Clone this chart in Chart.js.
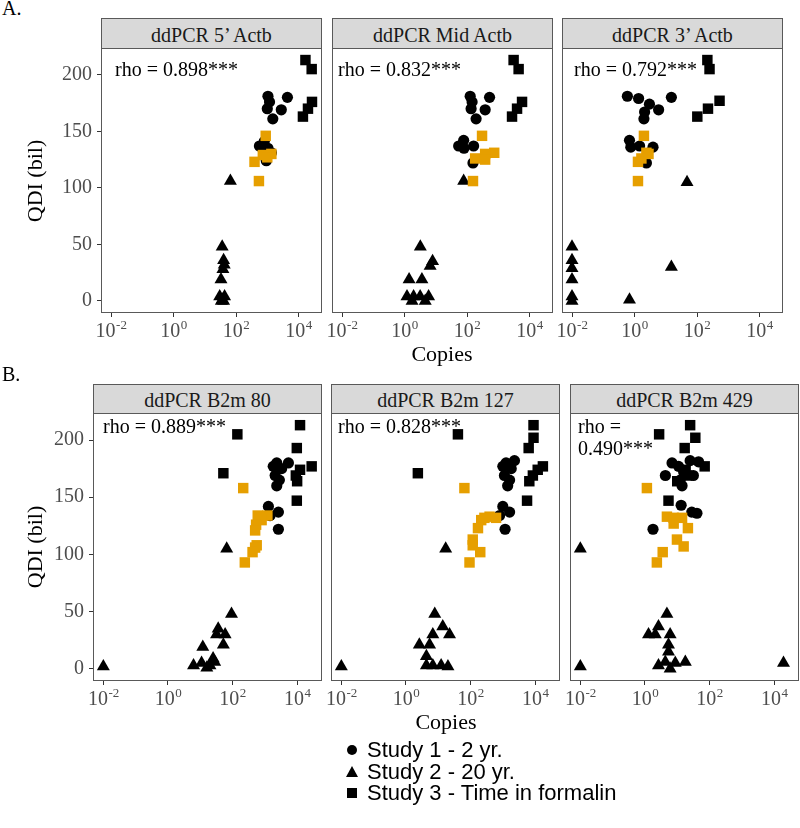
<!DOCTYPE html>
<html><head><meta charset="utf-8">
<script src="https://cdn.jsdelivr.net/npm/chart.js@4.4.1/dist/chart.umd.min.js"></script>
<style>
html,body{margin:0;padding:0;background:#fff;}
body{width:800px;height:828px;position:relative;overflow:hidden;font-family:"Liberation Serif","Times New Roman",serif;}
.abs{position:absolute;white-space:nowrap;line-height:1;}
canvas{position:absolute;}
.strip{position:absolute;background:#D9D9D9;border:1px solid #595959;box-sizing:border-box;text-align:center;font-size:20px;color:#1a1a1a;line-height:1;}
</style></head><body>
<script>
// ---------- data (Copies, QDI (bil)) ----------
const xTickValues = [0.01, 1, 100, 10000];
const yTickValues = [0, 50, 100, 150, 200];
const panelTitles = ["ddPCR 5\u2019 Actb", "ddPCR Mid Actb", "ddPCR 3\u2019 Actb", "ddPCR B2m 80", "ddPCR B2m 127", "ddPCR B2m 429"];
const rhoLabels = [["rho = 0.898***"], ["rho = 0.832***"], ["rho = 0.792***"], ["rho = 0.889***"], ["rho = 0.828***"], ["rho =", "0.490***"]];
const seriesNames = ["Study 1 - 2 yr.", "Study 2 - 20 yr.", "Study 3 - Time in formalin"];

// 5' Actb
const actb5_study1 = [[1050,181],[4400,180],[1180,176],[1000,170],[2800,169],[1500,161],[800,141],[560,137],[1050,135],[1350,131],[930,124]];
const actb5_study2 = [[66,106],[36,48],[40,36],[42,32],[38,28],[33,19],[30,4],[43,4],[36,1],[40,0],[34,0]];
const actb5_study3 = [[16600,213],[26300,205],[26900,176],[20000,170],[13800,163]];
const actb5_study3b = [[890,146],[1350,130],[720,129],[1000,127],[390,123],[540,106]];
// Mid Actb
const actbMid_study1 = [[126,181],[525,180],[145,176],[135,170],[380,169],[195,161],[78,142],[54,137],[162,137],[80,135],[155,122]];
const actbMid_study2 = [[78,106],[3.2,48],[7.9,35],[6.6,31],[1.4,19],[3.6,19],[1.2,4],[1.95,4],[3.16,4],[5.9,4],[1.74,0],[4.6,0]];
const actbMid_study3 = [[3090,213],[4470,205],[5750,176],[3980,170],[2750,163]];
const actbMid_study3b = [[302,146],[741,131],[380,130],[182,126],[380,125],[155,106]];
// 3' Actb
const actb3_study1 = [[0.59,181],[1.35,179],[15.1,180],[3.0,174],[5.9,169],[2.1,167],[2.0,161],[0.69,142],[0.76,136],[1.45,137],[3.9,136],[2.4,122]];
const actb3_study2 = [[0.01,48],[0.01,36],[0.01,29],[0.01,19],[0.01,4],[0.01,0],[0.69,1],[15.1,30],[47.9,105]];
const actb3_study3 = [[214,213],[251,205],[525,177],[224,170],[102,163]];
const actb3_study3b = [[2.0,146],[2.4,131],[2.8,130],[1.66,126],[1.29,123],[1.29,106]];
// B2m 80
const b2m80_study1 = [[2340,180],[5370,180],[1820,177],[3310,175],[2090,169],[2820,165],[2340,160],[1290,142],[2630,137],[1450,134],[2630,122]];
const b2m80_study2 = [[66,105],[93,48],[36,35],[59,30],[32,30],[52,21],[12,19],[25,9],[28,6],[11,5],[6.2,3],[20,3],[16,1],[0.01,2]];
const b2m80_study3 = [[12300,213],[141,205],[9770,193],[28200,177],[12300,174],[52,171],[9120,169],[10000,164],[9770,147]];
const b2m80_study3b = [[214,158],[603,134],[1200,134],[794,130],[537,126],[501,121],[560,108],[501,106],[417,102],[240,93]];
// B2m 127
const b2m127_study1 = [[1259,180],[2291,182],[1000,177],[1820,175],[1122,169],[1622,165],[1413,160],[1000,142],[1622,137],[794,134],[1175,122]];
const b2m127_study2 = [[17,105],[7.8,48],[13.8,37],[22.4,30],[6.8,30],[2.6,21],[5.4,21],[4.3,11],[4.3,3],[6.8,3],[12.3,3],[20,2],[0.01,2]];
const b2m127_study3 = [[8913,213],[40.7,205],[8913,202],[6310,193],[17378,177],[12023,174],[2.34,171],[8511,169],[6607,164],[5623,147]];
const b2m127_study3b = [[64.6,158],[389,133],[617,132],[269,132],[214,130],[170,123],[117,113],[117,108],[200,102],[93,93]];
// B2m 429
const b2m429_study1 = [[25.1,182],[45.7,181],[6.9,180],[11,177],[15.8,172],[4.3,169],[31.6,169],[12.3,165],[14.1,160],[13.2,143],[28.2,137],[40.7,136],[1.78,122]];
const b2m429_study2 = [[0.01,105],[0.01,2],[19500,5],[4.79,48],[2.63,37],[1.29,30],[2.09,30],[6.03,30],[5.37,21],[5.37,15],[4.27,6],[17.8,6],[8.7,5],[2.63,3],[6.03,0]];
const b2m429_study3 = [[25.1,213],[2.75,205],[36.3,202],[17,193],[70.8,177],[18.2,174],[20.4,169],[10,164],[5.37,147]];
const b2m429_study3b = [[1.15,158],[4.79,133],[7.76,132],[14.1,132],[7.76,127],[21.4,123],[9.8,113],[15.8,107],[3.55,102],[2.34,93]];

// ---------- layout ----------
const SERIF = '"Liberation Serif", "Times New Roman", serif';
const SANS = '"Liberation Sans", Arial, sans-serif';
const Y_MIN = -10.65, Y_MAX = 223.65;
const rows = [
  {label:"A.", labelBase:15, headerTop:18, top:48, bottom:313, xMin:Math.pow(10,-2.32), xMax:Math.pow(10,4.75), panels:[[101,322],[332,553],[562,783]],
   rhoPos:[[115,76],[338,76],[574,76]]},
  {label:"B.", labelBase:381, headerTop:384, top:413, bottom:681, xMin:Math.pow(10,-2.32), xMax:Math.pow(10,4.77), panels:[[93,322],[331,560],[570,799]],
   rhoPos:[[103,433],[338,433],[578,433]]}
];
const panelData = [
  [actb5_study1, actb5_study2, actb5_study3, actb5_study3b],
  [actbMid_study1, actbMid_study2, actbMid_study3, actbMid_study3b],
  [actb3_study1, actb3_study2, actb3_study3, actb3_study3b],
  [b2m80_study1, b2m80_study2, b2m80_study3, b2m80_study3b],
  [b2m127_study1, b2m127_study2, b2m127_study3, b2m127_study3b],
  [b2m429_study1, b2m429_study2, b2m429_study3, b2m429_study3b]
];

function addText(txt, left, base, size, family, color, extra){
  const d = document.createElement('div');
  d.className = 'abs';
  d.textContent = txt;
  const k = family === SANS ? 0.8465 : 0.8375;
  d.style.left = left + 'px';
  d.style.top = (base - k*size) + 'px';
  d.style.fontSize = size + 'px';
  d.style.fontFamily = family;
  d.style.color = color || '#000';
  if (extra) Object.assign(d.style, extra);
  document.body.appendChild(d);
  return d;
}

const framePlugin = {id:'frame', afterDraw(chart){
  const {left, top, right, bottom} = chart.chartArea;
  const ctx = chart.ctx;
  ctx.save();
  ctx.strokeStyle = '#595959'; ctx.lineWidth = 1;
  ctx.strokeRect(left+0.5, top+0.5, right-left-1, bottom-top-1);
  ctx.restore();
}};
const xLabelPlugin = {id:'xlab', afterDraw(chart){
  const ctx = chart.ctx, xs = chart.scales.x, ca = chart.chartArea;
  ctx.save();
  ctx.fillStyle = '#4D4D4D'; ctx.textBaseline = 'alphabetic'; ctx.textAlign = 'left';
  xTickValues.forEach(v => {
    const px = xs.getPixelForValue(v);
    const exp = String(Math.round(Math.log10(v)));
    ctx.font = '20px ' + SERIF; const wb = ctx.measureText('10').width;
    ctx.font = '13px ' + SERIF; const we = ctx.measureText(exp).width;
    const x0 = px - (wb + we)/2, base = ca.bottom + 24;
    ctx.font = '20px ' + SERIF; ctx.fillText('10', x0, base);
    ctx.font = '13px ' + SERIF; ctx.fillText(exp, x0 + wb + 0.5, base - 8);
  });
  ctx.restore();
}};

const toPts = arr => arr.map(p => ({x:p[0], y:p[1]}));

function makePanel(row, idx, pIndex){
  const [L, R] = row.panels[idx];
  const showY = idx === 0;
  const yW = 60, xH = 40, padR = 2;
  const cw = R - L + yW + padR, ch = row.bottom - row.top + xH;
  const cv = document.createElement('canvas');
  cv.width = cw; cv.height = ch;
  cv.style.left = (L - yW) + 'px'; cv.style.top = row.top + 'px';
  cv.style.width = cw + 'px'; cv.style.height = ch + 'px';
  document.body.appendChild(cv);

  const [s1, s2, s3, s3b] = panelData[pIndex];
  const common = {borderWidth:0, pointHoverRadius:0, clip:false};
  new Chart(cv, {
    type:'scatter',
    data:{datasets:[
      Object.assign({label:'Study 3 (subset)', data:toPts(s3b), pointStyle:'rect', pointRadius:7.4, backgroundColor:'#E69F00', borderColor:'#E69F00', order:0}, common),
      Object.assign({label:seriesNames[2], data:toPts(s3), pointStyle:'rect', pointRadius:7.4, backgroundColor:'#000', borderColor:'#000', order:1}, common),
      Object.assign({label:seriesNames[1], data:toPts(s2), pointStyle:'triangle', pointRadius:7.5, backgroundColor:'#000', borderColor:'#000', order:2}, common),
      Object.assign({label:seriesNames[0], data:toPts(s1), pointStyle:'circle', pointRadius:5.6, backgroundColor:'#000', borderColor:'#000', order:3}, common)
    ]},
    options:{
      responsive:false, animation:false, devicePixelRatio:1, events:[],
      layout:{padding:{left:0, top:0, right:padR, bottom:0}, autoPadding:false},
      plugins:{legend:{display:false}, tooltip:{enabled:false}},
      scales:{
        x:{type:'logarithmic', bounds:'data', min:row.xMin, max:row.xMax,
           afterBuildTicks:s => { s.ticks = xTickValues.map(v => ({value:v})); },
           afterFit:s => { s.height = xH; s.paddingLeft = 0; s.paddingRight = 0; s.paddingTop = 0; s.paddingBottom = 0; },
           ticks:{display:false},
           grid:{display:true, drawOnChartArea:false, drawTicks:true, tickLength:4, tickColor:'#333', color:'#333', lineWidth:1},
           border:{display:false}},
        y:{type:'linear', bounds:'data', min:Y_MIN, max:Y_MAX,
           afterBuildTicks:s => { s.ticks = yTickValues.map(v => ({value:v})); },
           afterFit:s => { s.width = yW; s.paddingLeft = 0; s.paddingRight = 0; s.paddingTop = 0; s.paddingBottom = 0; },
           ticks:{display:showY, color:'#4D4D4D', padding:5, font:{family:SERIF, size:20}},
           grid:{display:true, drawOnChartArea:false, drawTicks:showY, tickLength:4, tickColor:'#333', color:'#333', lineWidth:1},
           border:{display:false}}
      }
    },
    plugins:[framePlugin, xLabelPlugin]
  });

  // strip header
  const st = document.createElement('div');
  st.className = 'strip';
  st.style.left = L + 'px'; st.style.top = row.headerTop + 'px';
  st.style.width = (R - L) + 'px'; st.style.height = (row.top - row.headerTop + 1) + 'px';
  const h = row.top - row.headerTop + 1;
  st.style.paddingTop = ((h - 2 - 20)/2 + 1) + 'px';
  st.style.fontFamily = SERIF;
  st.textContent = panelTitles[pIndex];
  document.body.appendChild(st);

  // rho annotation
  const [rx, rb] = row.rhoPos[idx];
  rhoLabels[pIndex].forEach((line, li) => addText(line, rx, rb + li*22, 20, SERIF, '#000'));
}

rows.forEach((row, r) => {
  row.panels.forEach((p, i) => makePanel(row, i, r*3 + i));
  addText(row.label, 2, row.labelBase, 20, SERIF, '#000');
  const cx = (row.panels[0][0] + row.panels[2][1]) / 2;
  addText('Copies', cx - 150, row.bottom + 48, 22, SERIF, '#000', {width:'300px', textAlign:'center'});
  const cy = (row.top + row.bottom) / 2;
  const d = document.createElement('div');
  d.className = 'abs';
  d.textContent = 'QDI (bil)';
  d.style.fontFamily = SERIF; d.style.fontSize = '22px';
  d.style.width = '160px'; d.style.height = '22px'; d.style.textAlign = 'center';
  d.style.left = (34.6 - 80) + 'px'; d.style.top = (cy - 11) + 'px';
  d.style.transform = 'rotate(-90deg)'; d.style.transformOrigin = '50% 50%';
  document.body.appendChild(d);
});

// legend
const legendItems = [
  {shape:'circle', base:758},
  {shape:'triangle', base:779.5},
  {shape:'square', base:801}
];
legendItems.forEach((it, i) => {
  const m = document.createElement('div');
  m.style.position = 'absolute';
  const cy = it.base - 8;
  if (it.shape === 'circle') {
    Object.assign(m.style, {left:'347px', top:(cy-5)+'px', width:'10px', height:'10px', borderRadius:'50%', background:'#000'});
  } else if (it.shape === 'triangle') {
    Object.assign(m.style, {left:'346px', top:(cy-6)+'px', width:'0', height:'0', borderLeft:'6px solid transparent', borderRight:'6px solid transparent', borderBottom:'11px solid #000'});
  } else {
    Object.assign(m.style, {left:'347px', top:(cy-5)+'px', width:'10px', height:'10px', background:'#000'});
  }
  document.body.appendChild(m);
  addText(seriesNames[i], 367, it.base, 22, SANS, '#000');
});
</script>
</body></html>
